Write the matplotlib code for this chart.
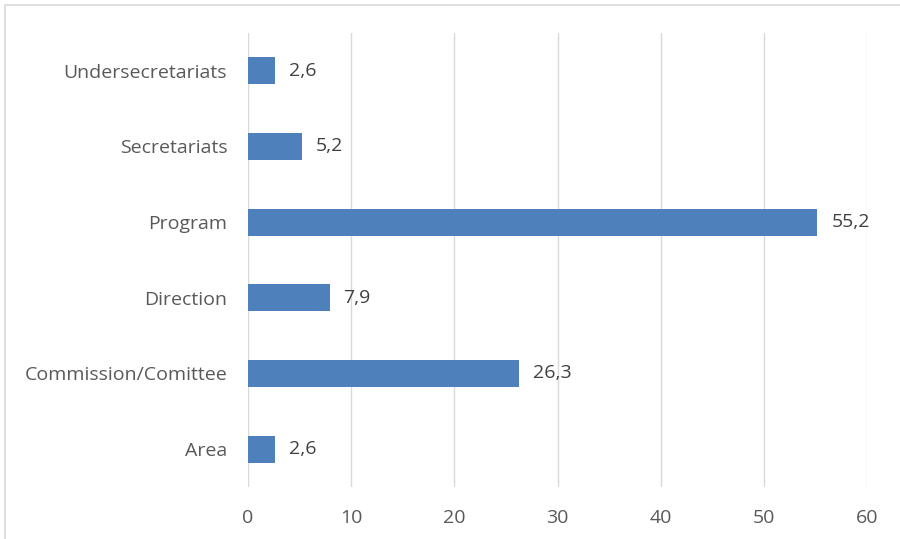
import matplotlib.pyplot as plt
from matplotlib.patches import Rectangle

categories = ["Area", "Commission/Comittee", "Direction", "Program", "Secretariats", "Undersecretariats"]
values = [2.6, 26.3, 7.9, 55.2, 5.2, 2.6]
value_labels = ["2,6", "26,3", "7,9", "55,2", "5,2", "2,6"]

plt.rcParams["font.family"] = ["Open Sans", "DejaVu Sans"]

fig = plt.figure(figsize=(9, 5.39), dpi=100)
ax = fig.add_axes([0.2756, 0.0965, 0.6877, 0.8423])

ax.barh(categories, values, height=0.36, color="#4E80BC", zorder=3)
for i, (v, lab) in enumerate(zip(values, value_labels)):
    ax.annotate(lab, (v, i), xytext=(10, 0), textcoords="offset points",
                va="center", ha="left", fontsize=14, color="#404040")

ax.set_xlim(0, 60)
ax.set_ylim(-0.5, 5.5)
ax.set_xticks(range(0, 61, 10))
ax.grid(axis="x", color="#D9D9D9", linewidth=1, zorder=0)
for s in ax.spines.values():
    s.set_visible(False)
ax.tick_params(length=0, labelsize=14, labelcolor="#595959")
ax.tick_params(axis="x", pad=16)
ax.tick_params(axis="y", pad=15)

fig.patches.append(Rectangle((5 / 900, -0.01), 1.0, 1 - 5 / 539 + 0.01, transform=fig.transFigure,
                             fill=False, edgecolor="#D9D9D9", linewidth=1.2))

fig.savefig("out.png", dpi=100)
